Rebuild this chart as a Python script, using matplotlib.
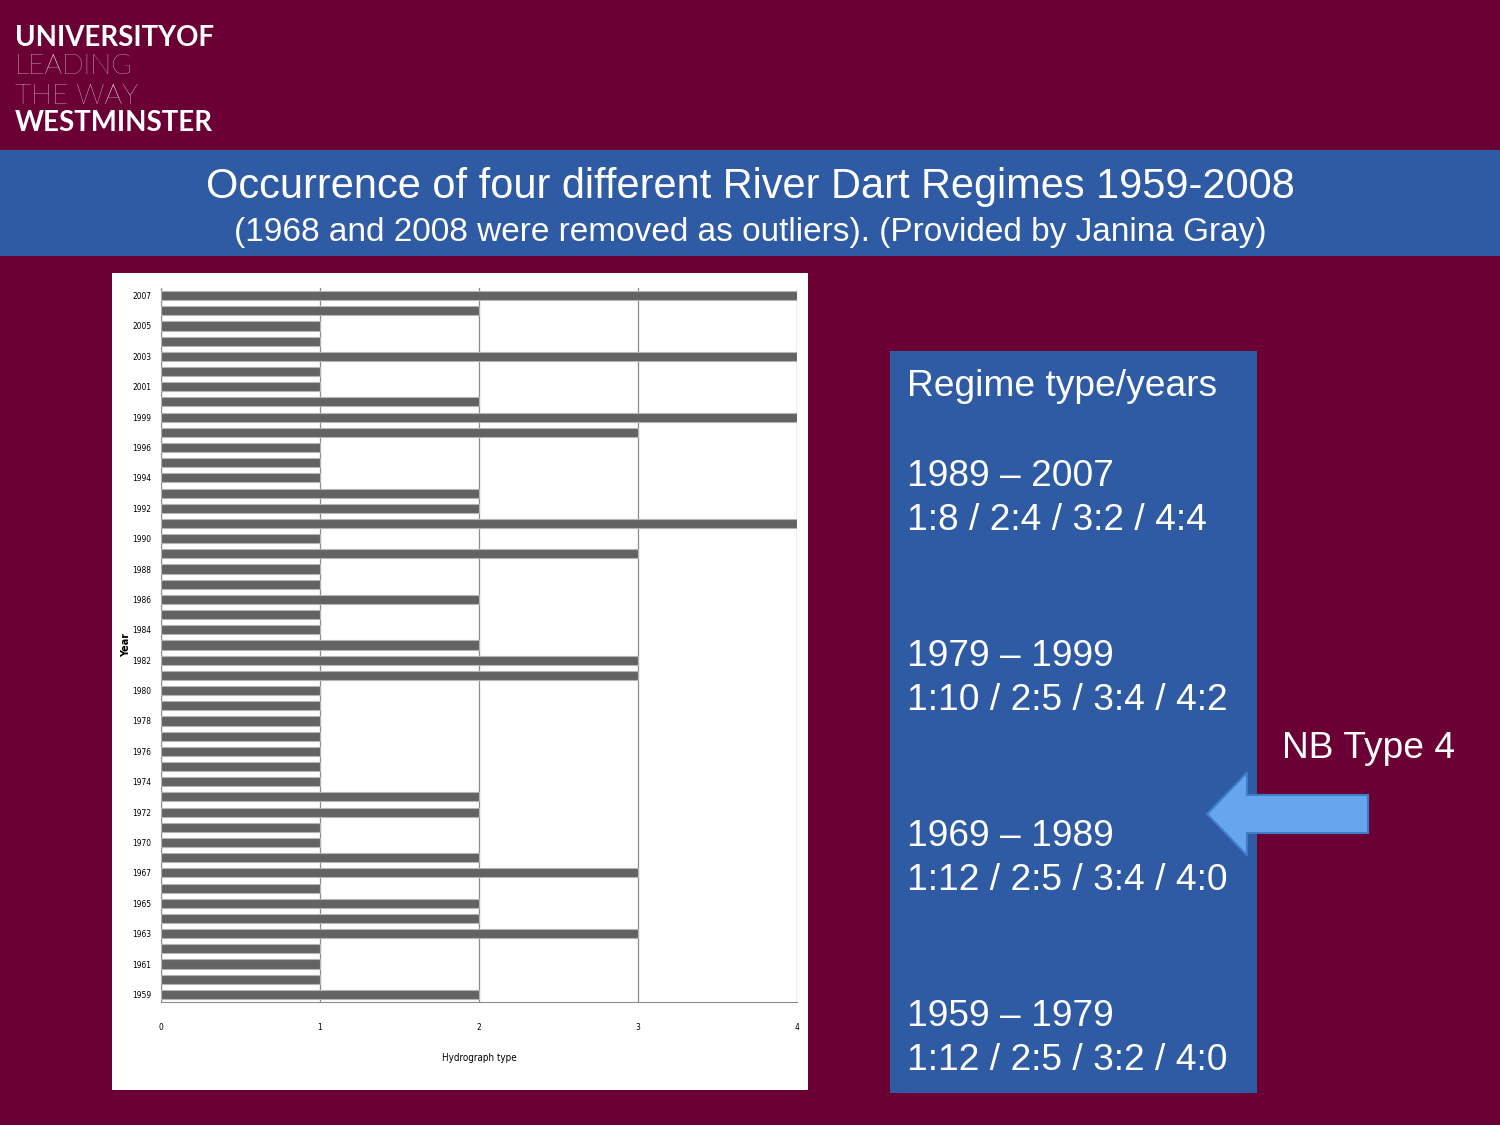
import matplotlib
matplotlib.use('Agg')
import matplotlib.pyplot as plt
import numpy as np
from matplotlib.patches import Rectangle, FancyArrow

# hydrograph type per year (1968 removed, 1997 not present in the chart)
years = [2007, 2006, 2005, 2004, 2003, 2002, 2001, 2000, 1999, 1998,
         1996, 1995, 1994, 1993, 1992, 1991, 1990, 1989, 1988, 1987,
         1986, 1985, 1984, 1983, 1982, 1981, 1980, 1979, 1978, 1977,
         1976, 1975, 1974, 1973, 1972, 1971, 1970, 1969, 1967, 1966,
         1965, 1964, 1963, 1962, 1961, 1960, 1959]
hydro_type = [4, 2, 1, 1, 4, 1, 1, 2, 4, 3,
              1, 1, 1, 2, 2, 4, 1, 3, 1, 1,
              2, 1, 1, 2, 3, 3, 1, 1, 1, 1,
              1, 1, 1, 2, 2, 1, 1, 2, 3, 1,
              2, 2, 3, 1, 1, 1, 2]
x_ticks = [0, 1, 2, 3, 4]

title = 'Occurrence of four different River Dart Regimes 1959-2008'
subtitle = '(1968 and 2008 were removed as outliers). (Provided by Janina Gray)'
box_title = 'Regime type/years'
periods = ['1989 \u2013 2007', '1979 \u2013 1999', '1969 \u2013 1989', '1959 \u2013 1979']
counts = ['1:8 / 2:4 / 3:2 / 4:4', '1:10 / 2:5 / 3:4 / 4:2',
          '1:12 / 2:5 / 3:4 / 4:0', '1:12 / 2:5 / 3:2 / 4:0']

MAROON = '#6a0034'
BLUE = '#2e5ba4'

fig = plt.figure(figsize=(15, 11.25), dpi=100)
fig.patch.set_facecolor(MAROON)

# background layer in pixel coordinates
bg = fig.add_axes([0, 0, 1, 1])
bg.set_xlim(0, 1500)
bg.set_ylim(1125, 0)
bg.axis('off')

bg.add_patch(Rectangle((0, 150), 1500, 106, facecolor=BLUE, edgecolor='none'))
bg.text(750, 187, title, ha='center', va='center', color='white',
        fontsize=29.9, family='Liberation Sans')
bg.text(750, 232, subtitle, ha='center', va='center', color='white',
        fontsize=24, family='Liberation Sans')

# logo
bg.text(15, 38, 'UNIVERSITYOF', ha='left', va='center', color='white',
        fontsize=19.9, family='Lato', fontweight='bold')
bg.text(15, 67, 'LEADING', ha='left', va='center', color='white',
        fontsize=20.2, family='Lato', fontweight='light')
bg.text(15, 96, 'THE WAY', ha='left', va='center', color='white',
        fontsize=20.2, family='Lato', fontweight='light')
bg.text(15, 123, 'WESTMINSTER', ha='left', va='center', color='white',
        fontsize=19.9, family='Lato', fontweight='bold')

# chart background
bg.add_patch(Rectangle((112, 273), 696, 817, facecolor='white', edgecolor='none'))

# regime text box
bg.add_patch(Rectangle((890, 351), 367, 742, facecolor=BLUE, edgecolor='none'))
bg.text(907, 386, box_title, ha='left', va='center', color='white',
        fontsize=26.7, family='Liberation Sans')
for i, (p, c) in enumerate(zip(periods, counts)):
    y0 = 476 + i * 180
    bg.text(907, y0, p, ha='left', va='center', color='white',
            fontsize=26.7, family='Liberation Sans')
    bg.text(907, y0 + 45, c, ha='left', va='center', color='white',
            fontsize=26.7, family='Liberation Sans')

bg.text(1282, 749, 'NB Type 4', ha='left', va='center', color='white',
        fontsize=26.7, family='Liberation Sans')
bg.add_patch(FancyArrow(1368, 814, -121, 0, width=38, head_width=83,
                        head_length=40, length_includes_head=False,
                        facecolor='#66a6ee', edgecolor='#3f7cc8', linewidth=1.5))

# bar chart
ax = fig.add_axes([161 / 1500, 1 - 1002 / 1125, 636 / 1500, 714 / 1125])
ax.set_facecolor('white')
pos = np.arange(len(years))
ax.barh(pos, hydro_type, height=0.6, color='#636363', edgecolor='#b5b5b5',
        linewidth=0.8, zorder=3)
ax.set_ylim(len(years) - 0.5, -0.5)
ax.set_xlim(0, 4)
ax.set_xticks(x_ticks)
ax.set_xticklabels([str(t) for t in x_ticks], fontsize=6, family='DejaVu Sans',
                   fontstretch='condensed')
ax.set_yticks(pos[::2])
ax.set_yticklabels([str(y) for y in years[::2]], fontsize=6, family='DejaVu Sans',
                   fontstretch='condensed')
ax.tick_params(axis='x', length=0, pad=15)
ax.tick_params(axis='y', length=0, pad=7)
ax.grid(axis='x', color='#8c8c8c', linewidth=0.9, zorder=0)
for side in ['top', 'right']:
    ax.spines[side].set_visible(False)
ax.spines['left'].set_color('#8c8c8c')
ax.spines['bottom'].set_color('#8c8c8c')
ax.set_xlabel('Hydrograph type', fontsize=7, family='DejaVu Sans',
              fontstretch='condensed', labelpad=15)
ax.set_ylabel('Year', fontsize=7, fontweight='bold', family='DejaVu Sans',
              labelpad=1)

fig.savefig('out.png', dpi=100, facecolor=MAROON)
